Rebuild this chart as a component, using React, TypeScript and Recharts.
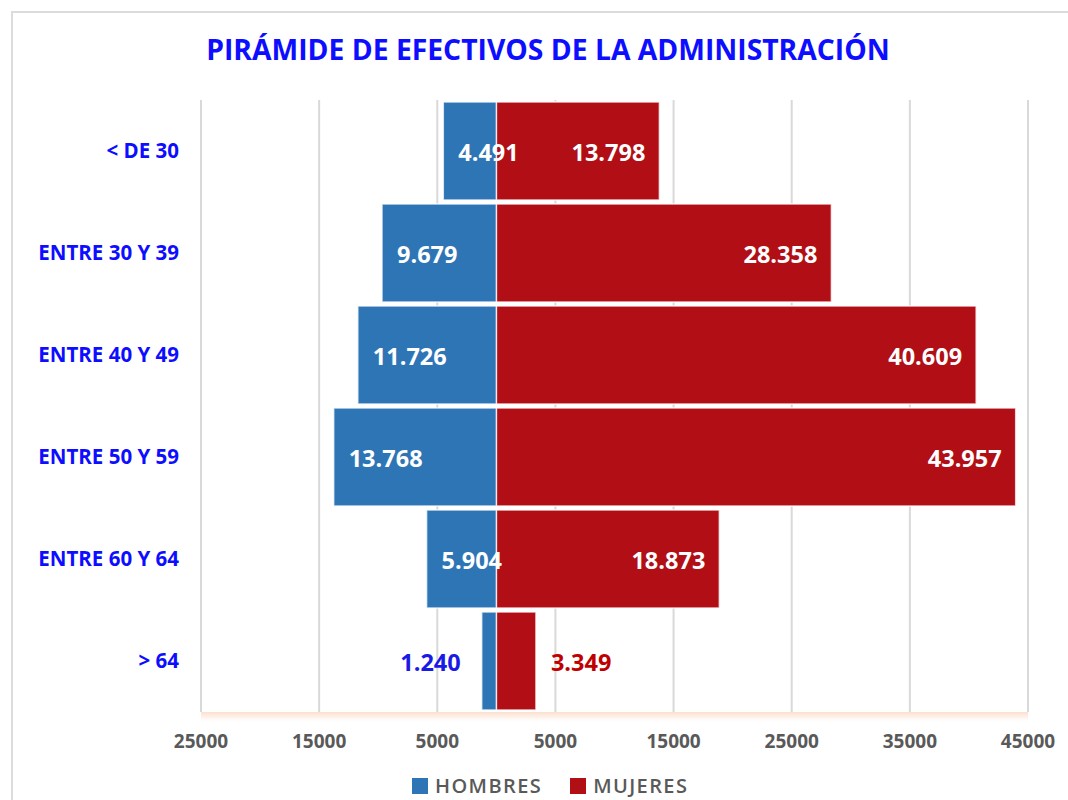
import { BarChart, Bar, XAxis, YAxis, CartesianGrid, LabelList, Legend } from "recharts";

const ageGroups = ["< DE 30", "ENTRE 30 Y 39", "ENTRE 40 Y 49", "ENTRE 50 Y 59", "ENTRE 60 Y 64", "> 64"];
const hombres = [4491, 9679, 11726, 13768, 5904, 1240];
const mujeres = [13798, 28358, 40609, 43957, 18873, 3349];
const xTicks = [-25000, -15000, -5000, 5000, 15000, 25000, 35000, 45000];

const BLUE = "#2e75b6";
const RED = "#b10e16";
const FONT = "'Open Sans', 'DejaVu Sans', sans-serif";

const series = [
  { key: "hombres", name: "HOMBRES", color: BLUE },
  { key: "mujeres", name: "MUJERES", color: RED },
];

// men go to the left, so they are stored negated in the chart table
const data = ageGroups.map((g, i) => ({ group: g, hombres: -hombres[i], mujeres: mujeres[i] }));

const fmt = (n: number) => String(Math.abs(n)).replace(/\B(?=(\d{3})+(?!\d))/g, ".");

function makeLabel(side: "h" | "m") {
  // eslint-disable-next-line @typescript-eslint/no-explicit-any
  return (props: any) => {
    const x = Number(props.x);
    const w = Number(props.width);
    const y = Number(props.y);
    const h = Number(props.height);
    const left = Math.min(x, x + w);
    const right = Math.max(x, x + w);
    const inside = right - left > 45;
    let tx: number;
    let anchor: "start" | "end";
    let fill: string;
    if (side === "h") {
      tx = inside ? left + 15 : left - 21;
      anchor = inside ? "start" : "end";
      fill = inside ? "#ffffff" : "#1a1ae6";
    } else {
      tx = inside ? right - 14 : right + 15;
      anchor = inside ? "end" : "start";
      fill = inside ? "#ffffff" : "#c00000";
    }
    return (
      <text
        x={tx}
        y={y + h / 2 + 1}
        textAnchor={anchor}
        dominantBaseline="central"
        fill={fill}
        style={{ fontFamily: FONT, fontSize: 23.5, fontWeight: 700 }}
      >
        {fmt(Number(props.value))}
      </text>
    );
  };
}

function LegendBox() {
  return (
    <div
      style={{
        display: "flex",
        alignItems: "center",
        fontFamily: FONT,
        fontSize: 20,
        fontWeight: 600,
        letterSpacing: 1.4,
        color: "#595959",
        lineHeight: "18px",
      }}
    >
      {series.map((s, i) => (
        <div key={s.key} style={{ display: "flex", alignItems: "center", marginLeft: i ? 28 : 0 }}>
          <span style={{ width: 16, height: 16, background: s.color, marginRight: 7, display: "block" }} />
          <span style={{ display: "block", height: 18 }}>{s.name}</span>
        </div>
      ))}
    </div>
  );
}

export default function App() {
  return (
    <div
      style={{
        position: "absolute",
        left: 0,
        top: 0,
        width: 1068,
        height: 800,
        overflow: "hidden",
        background: "#fff",
      }}
    >
      {/* chart frame */}
      <div
        style={{
          position: "absolute",
          left: 11,
          top: 11,
          width: 1100,
          height: 900,
          border: "2px solid #dcdcdc",
        }}
      />
      <div
        style={{
          position: "absolute",
          left: 0,
          top: 30,
          width: 1096,
          textAlign: "center",
          fontFamily: FONT,
          fontSize: 28.3,
          fontWeight: 700,
          color: "#0d0dff",
          whiteSpace: "nowrap",
        }}
      >
        PIRÁMIDE DE EFECTIVOS DE LA ADMINISTRACIÓN
      </div>
      {/* soft shadow under the plot area */}
      <div
        style={{
          position: "absolute",
          left: 201,
          top: 712,
          width: 827,
          height: 9,
          background: "linear-gradient(#fbe0cf, rgba(253,236,226,0))",
        }}
      />
      <div style={{ position: "absolute", left: 0, top: 0 }}>
        <BarChart
          width={1068}
          height={800}
          data={data}
          layout="vertical"
          stackOffset="sign"
          barCategoryGap="2%"
          margin={{ top: 100, right: 40, bottom: 0, left: 0 }}
        >
          <CartesianGrid horizontal={false} stroke="#d9d9d9" strokeWidth={2} />
          <XAxis
            type="number"
            domain={[-25000, 45000]}
            ticks={xTicks}
            interval={0}
            tickFormatter={(v) => String(Math.abs(v))}
            height={88}
            tickSize={0}
            tickMargin={23}
            axisLine={false}
            tick={{ fill: "#595959", fontSize: 19, fontWeight: 700, fontFamily: FONT }}
          />
          <YAxis
            type="category"
            dataKey="group"
            width={201}
            tickSize={0}
            tickMargin={22}
            axisLine={false}
            tick={{ fill: "#0d0dff", fontSize: 20.5, fontWeight: 700, fontFamily: FONT }}
          />
          <Legend
            layout="horizontal"
            verticalAlign="middle"
            align="center"
            wrapperStyle={{ position: "absolute", top: 777, left: 412, width: 400 }}
            content={() => <LegendBox />}
          />
          <Bar
            dataKey="mujeres"
            name="MUJERES"
            stackId="a"
            fill={RED}
            stroke="rgba(255,255,255,0.75)"
            strokeWidth={1.5}
            isAnimationActive={false}
          >
            <LabelList dataKey="mujeres" content={makeLabel("m")} />
          </Bar>
          <Bar
            dataKey="hombres"
            name="HOMBRES"
            stackId="a"
            fill={BLUE}
            stroke="rgba(255,255,255,0.75)"
            strokeWidth={1.5}
            isAnimationActive={false}
          >
            <LabelList dataKey="hombres" content={makeLabel("h")} />
          </Bar>
        </BarChart>
      </div>
    </div>
  );
}
